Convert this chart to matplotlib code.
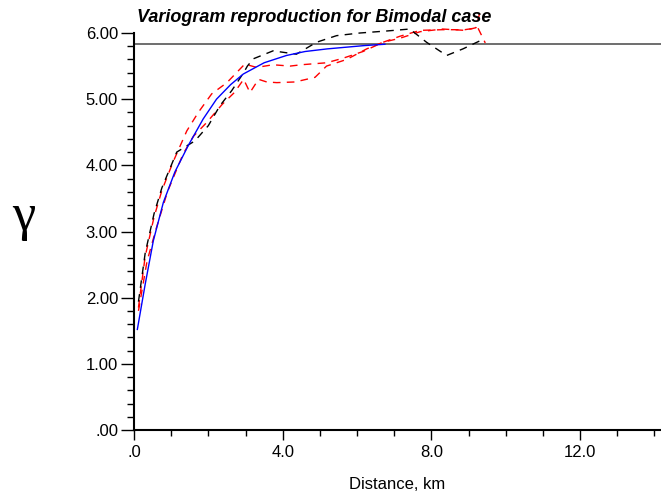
"""Variogram reproduction for Bimodal case"""

import matplotlib
matplotlib.use("Agg")
import matplotlib.pyplot as plt
from matplotlib.ticker import MultipleLocator

plt.rcParams["font.family"] = ["Liberation Sans", "DejaVu Sans"]

# model variogram (blue)
model_x = [0.09, 0.3, 0.52, 0.79, 1.1, 1.46, 1.86, 2.22, 2.6, 2.94, 3.5, 4.1, 4.6, 5.2, 5.8, 6.2, 6.75]
model_y = [1.52, 2.2, 2.86, 3.44, 3.9, 4.3, 4.7, 5.0, 5.22, 5.38, 5.55, 5.66, 5.72, 5.76, 5.79, 5.81, 5.83]

# reference data variogram (black dashed)
data_x = [0.12, 0.3, 0.54, 0.75, 1.15, 1.64, 2.0, 2.31, 2.63, 2.95, 3.05, 3.21, 3.74,
          4.37, 4.91, 5.45, 6.08, 6.79, 7.42, 7.87, 8.41, 8.85, 9.3]
data_y = [1.94, 2.67, 3.27, 3.66, 4.2, 4.37, 4.6, 4.9, 5.13, 5.4, 5.5, 5.61, 5.73,
          5.68, 5.86, 5.96, 6.0, 6.03, 6.06, 5.86, 5.66, 5.76, 5.88]

# realizations (red dashed)
real1_x = [0.12, 0.3, 0.54, 0.75, 1.05, 1.42, 1.73, 2.09, 2.5, 2.98, 3.3, 3.74, 4.2, 4.5,
           5.18, 5.63, 6.16, 6.7, 7.15, 7.7, 8.3, 8.9, 9.25, 9.45]
real1_y = [1.85, 2.62, 3.22, 3.62, 4.05, 4.52, 4.8, 5.08, 5.25, 5.53, 5.48, 5.52, 5.5, 5.52,
           5.55, 5.62, 5.72, 5.86, 5.95, 6.04, 6.05, 6.05, 6.08, 5.85]
real2_x = [0.12, 0.35, 0.6, 0.9, 1.32, 1.6, 1.96, 2.37, 2.7, 2.95, 3.12, 3.35, 3.57, 3.84,
           4.33, 4.87, 5.18, 5.72, 6.26, 6.7, 7.15, 7.7, 8.3, 8.9, 9.2, 9.3]
real2_y = [1.8, 2.55, 3.05, 3.6, 4.17, 4.44, 4.65, 4.92, 5.1, 5.3, 5.1, 5.3, 5.26, 5.25,
           5.26, 5.33, 5.5, 5.6, 5.76, 5.86, 5.92, 6.02, 6.06, 6.04, 6.08, 6.3]

sill = 5.83

x_ticks = [0, 4, 8, 12]
x_labels = [".0", "4.0", "8.0", "12.0"]
y_ticks = [0, 1, 2, 3, 4, 5, 6]
y_labels = [".00", "1.00", "2.00", "3.00", "4.00", "5.00", "6.00"]

fig = plt.figure(figsize=(6.61, 4.98), dpi=100)
ax = fig.add_axes([134 / 661, 1 - 430 / 498, 1 - 134 / 661, (430 - 33) / 498])

ax.axhline(sill, color="#555555", lw=1.2, zorder=1)

dash = dict(lw=1.0, dashes=(5.5, 4.5), clip_on=False, zorder=3)
ax.plot(real1_x, real1_y, color="red", **dash)
ax.plot(real2_x, real2_y, color="red", **dash)
ax.plot(data_x, data_y, color="black", **dash)
ax.plot(model_x, model_y, color="blue", lw=1.0, clip_on=False, zorder=4)

ax.set_xlim(0, 527 / 37.17)
ax.set_ylim(0, 6.0)

ax.set_xticks(x_ticks)
ax.set_xticklabels(x_labels)
ax.set_yticks(y_ticks)
ax.set_yticklabels(y_labels)
ax.xaxis.set_minor_locator(MultipleLocator(1))
ax.yaxis.set_minor_locator(MultipleLocator(0.2))
ax.tick_params(axis="y", which="major", length=9.5, width=1, labelsize=12, pad=2)
ax.tick_params(axis="y", which="minor", length=5, width=1)
ax.tick_params(axis="x", which="major", length=7, width=1, labelsize=12, pad=4)
ax.tick_params(axis="x", which="minor", length=4, width=1)

for side in ["top", "right"]:
    ax.spines[side].set_visible(False)
for side in ["left", "bottom"]:
    ax.spines[side].set_linewidth(1.5)

ax.set_xlabel("Distance, km", fontsize=12, labelpad=12)
fig.text(24 / 661, 1 - 217 / 498, "γ", fontsize=38, family=["Liberation Serif", "DejaVu Serif"],
         ha="center", va="center")
fig.text(137 / 661, 1 - 17 / 498, "Variogram reproduction for Bimodal case",
         fontsize=13, fontweight="bold", fontstyle="italic", ha="left", va="center")

plt.savefig("out.png", dpi=100)
